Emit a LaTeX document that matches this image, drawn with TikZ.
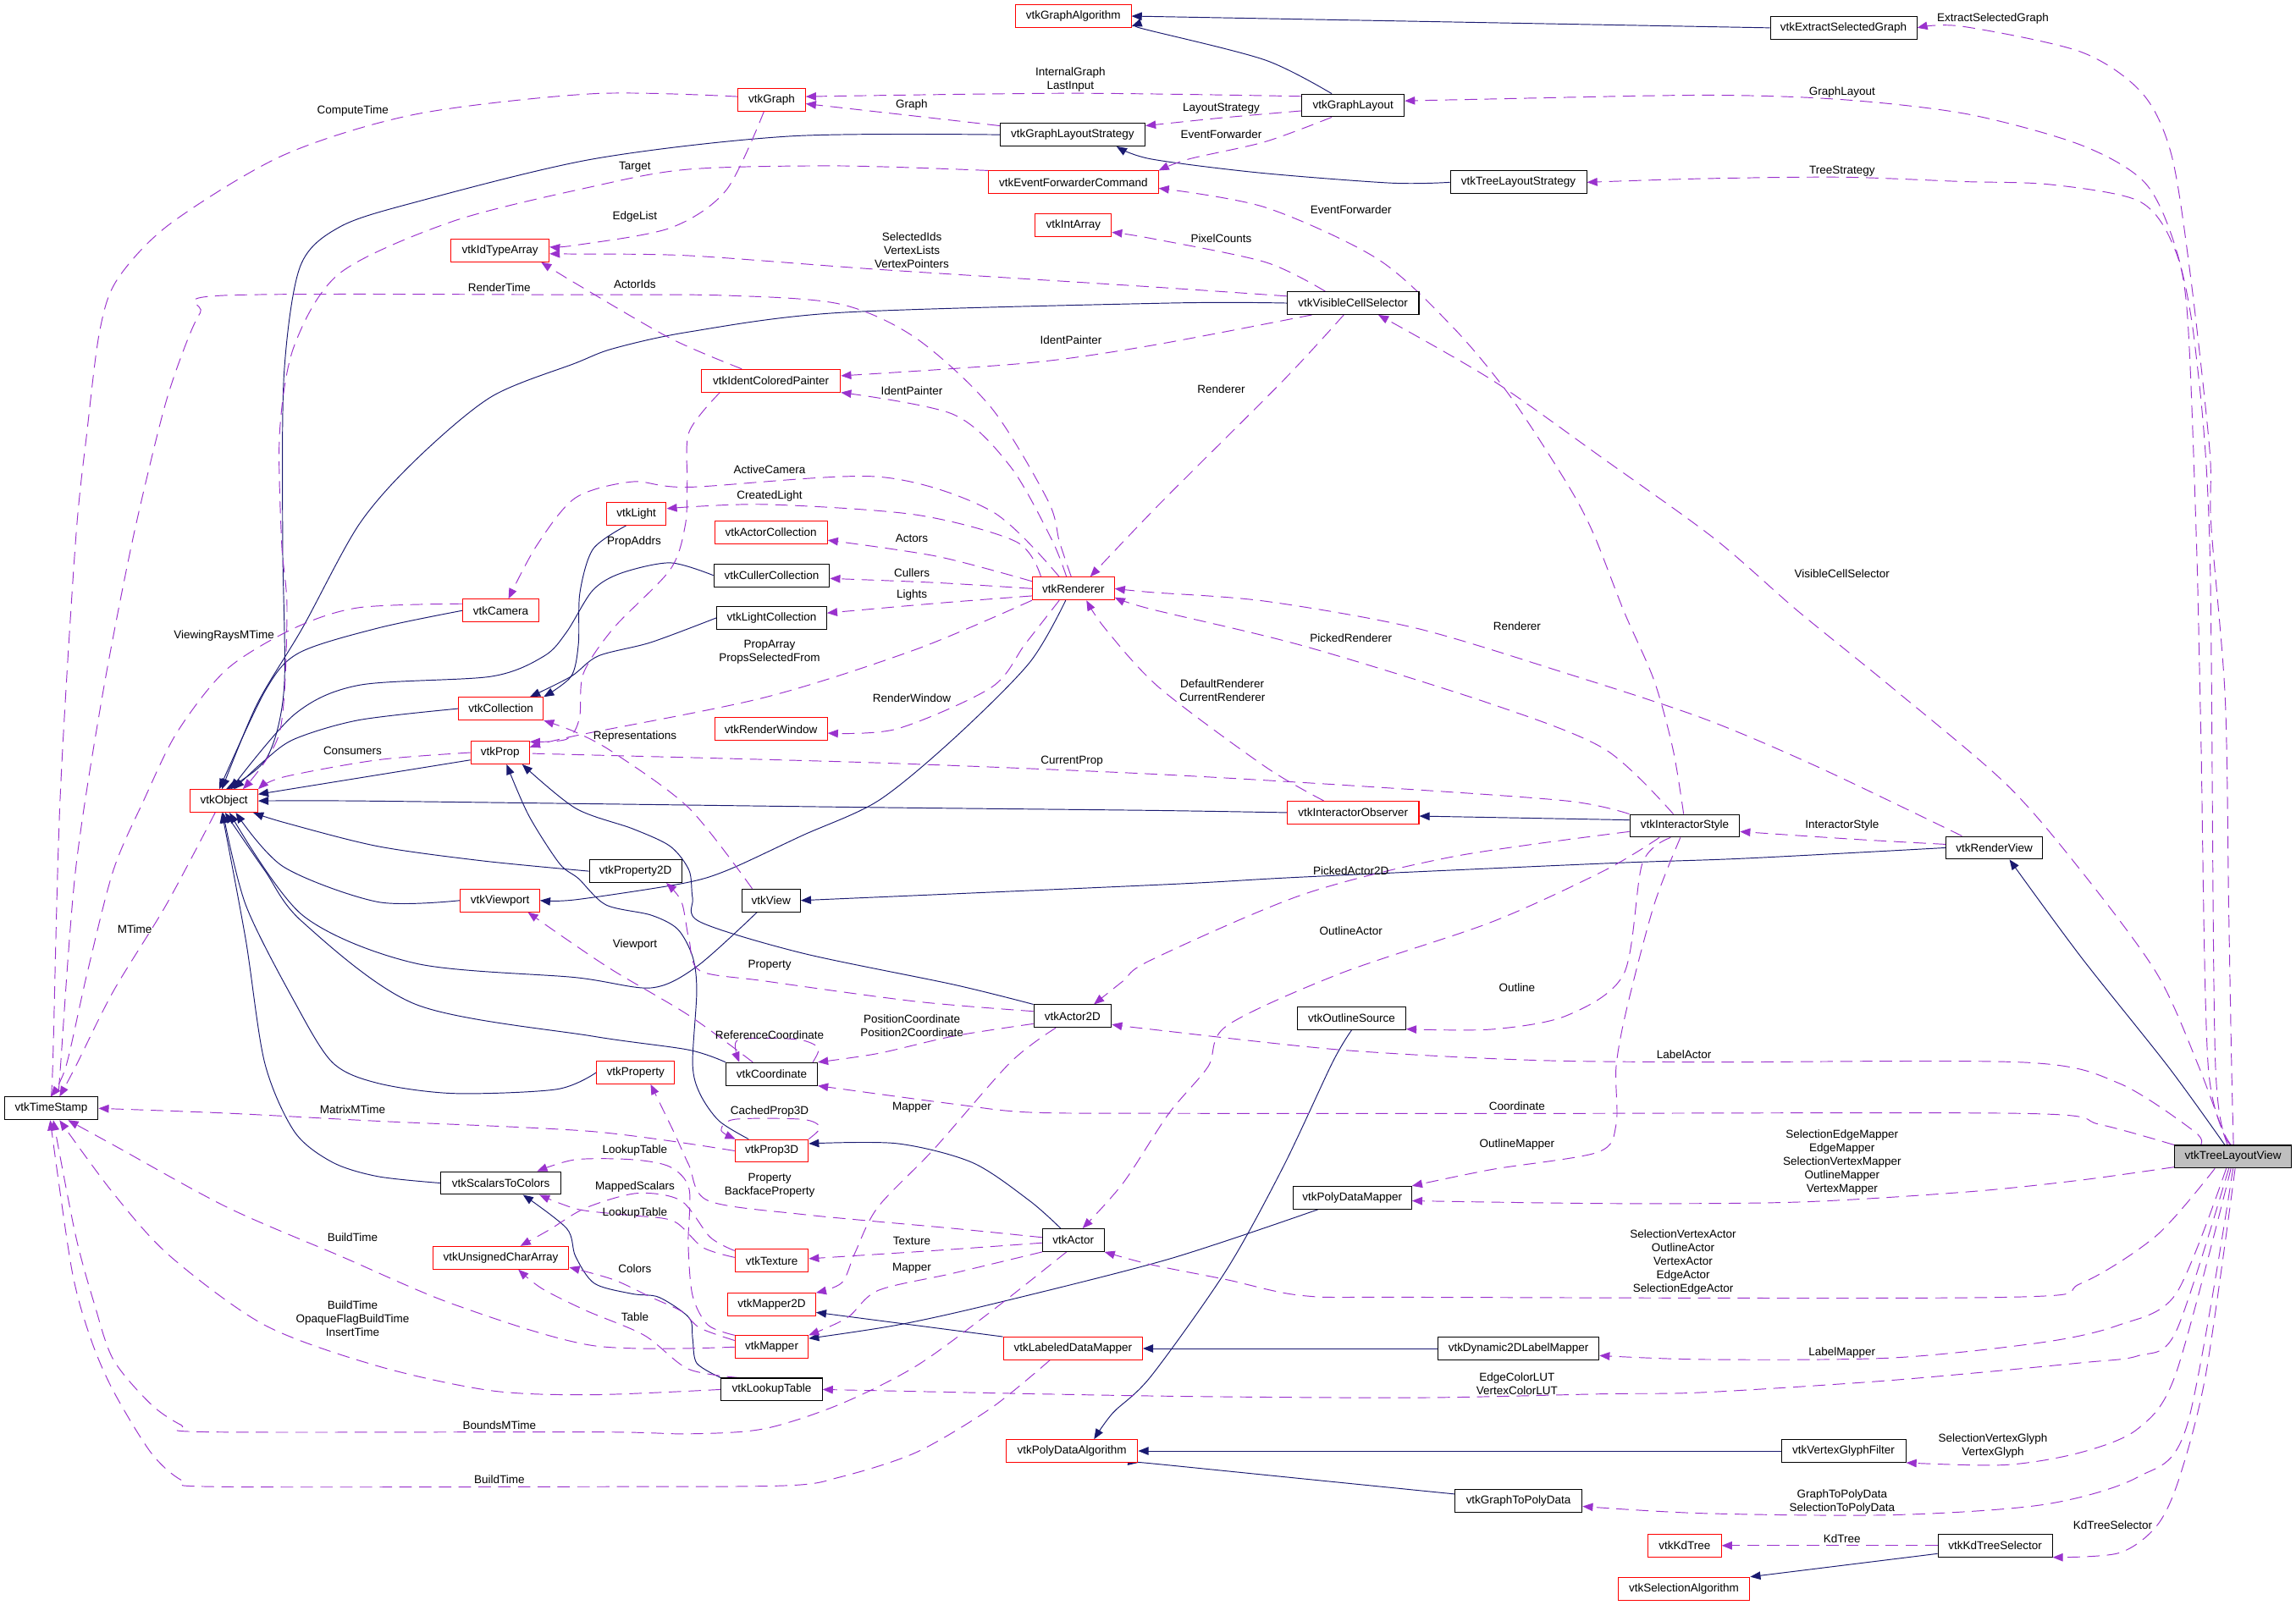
\documentclass[tikz,border=0pt]{standalone}
\usepackage{fontspec}
\setmainfont{Liberation Sans}
\usetikzlibrary{arrows.meta}
\pgfdeclarelayer{bg}
\pgfdeclarelayer{edges}
\pgfsetlayers{bg,edges,main}
\definecolor{navyc}{HTML}{191970}
\definecolor{orch}{HTML}{9A32CD}
\definecolor{curfill}{HTML}{BFBFBF}
\begin{document}
\begin{tikzpicture}[x=1pt,y=-1pt,
  every node/.style={font=\fontsize{7.8}{9.25}\selectfont},
  cls/.style={draw, fill=white, line width=0.6pt, minimum height=15.5pt, inner sep=0pt},
  redc/.style={cls, draw=red},
  blkc/.style={cls, draw=black},
  curc/.style={cls, draw=black, fill=curfill},
  lbl/.style={align=center, inner sep=0pt},
  inh/.style={navyc, line width=0.55pt, -{Triangle[length=7pt,width=5.5pt]}},
  dep/.style={orch, line width=0.55pt, dash pattern=on 8.5pt off 5pt, -{Triangle[length=7pt,width=5.5pt]}}]
\useasboundingbox (0,0) rectangle (1568,1096);
\begin{pgfonlayer}{bg}
\fill[white] (0,0) rectangle (1568,1096);
\end{pgfonlayer}
% ---------------- nodes
\node[redc, minimum width=79pt] (ga) at (733,11) {vtkGraphAlgorithm};
\node[blkc, minimum width=100pt] (esg) at (1259,19) {vtkExtractSelectedGraph};
\node[redc, minimum width=46pt] (graph) at (527,68) {vtkGraph};
\node[blkc, minimum width=70pt] (gl) at (924,72) {vtkGraphLayout};
\node[blkc, minimum width=99pt] (gls) at (732.5,92) {vtkGraphLayoutStrategy};
\node[redc, minimum width=116pt] (efc) at (733,124.5) {vtkEventForwarderCommand};
\node[blkc, minimum width=93pt] (tls) at (1037,124.5) {vtkTreeLayoutStrategy};
\node[redc, minimum width=67pt] (ita) at (341.5,171) {vtkIdTypeArray};
\node[redc, minimum width=52pt] (ia) at (733,154) {vtkIntArray};
\node[blkc, minimum width=90pt] (vcs) at (924,207) {vtkVisibleCellSelector};
\node[redc, minimum width=95pt] (icp) at (526.5,260) {vtkIdentColoredPainter};
\node[redc, minimum width=41pt] (light) at (434.5,351) {vtkLight};
\node[redc, minimum width=77pt] (ac) at (526.5,363.5) {vtkActorCollection};
\node[blkc, minimum width=79pt] (cc) at (527,393) {vtkCullerCollection};
\node[blkc, minimum width=75pt] (lc) at (527,422) {vtkLightCollection};
\node[redc, minimum width=56pt] (ren) at (733,402) {vtkRenderer};
\node[redc, minimum width=52pt] (cam) at (342,417) {vtkCamera};
\node[redc, minimum width=58pt] (coll) at (342,484) {vtkCollection};
\node[redc, minimum width=77pt] (rw) at (526.5,498) {vtkRenderWindow};
\node[redc, minimum width=40pt] (prop) at (341.5,514) {vtkProp};
\node[redc, minimum width=46pt] (obj) at (153,547) {vtkObject};
\node[redc, minimum width=90pt] (io) at (924,555) {vtkInteractorObserver};
\node[blkc, minimum width=75pt] (is) at (1150.5,564) {vtkInteractorStyle};
\node[blkc, minimum width=66pt] (rv) at (1362,579) {vtkRenderView};
\node[blkc, minimum width=63pt] (p2d) at (434,595) {vtkProperty2D};
\node[redc, minimum width=54pt] (vp) at (341.5,615) {vtkViewport};
\node[blkc, minimum width=40pt] (view) at (526.6,615) {vtkView};
\node[blkc, minimum width=53pt] (a2d) at (732.5,694) {vtkActor2D};
\node[blkc, minimum width=74pt] (os) at (923,695.6) {vtkOutlineSource};
\node[blkc, minimum width=62.5pt] (coord) at (527,733.5) {vtkCoordinate};
\node[redc, minimum width=53pt] (prty) at (434,732.5) {vtkProperty};
\node[blkc, minimum width=64pt] (ts) at (35,757) {vtkTimeStamp};
\node[redc, minimum width=50pt] (p3d) at (527,786) {vtkProp3D};
\node[curc, minimum width=80pt] (tlv) at (1525,790) {vtkTreeLayoutView};
\node[blkc, minimum width=82pt] (s2c) at (342,808) {vtkScalarsToColors};
\node[blkc, minimum width=81pt] (pdm) at (923.5,818) {vtkPolyDataMapper};
\node[blkc, minimum width=42pt] (actor) at (733,847) {vtkActor};
\node[redc, minimum width=93pt] (uca) at (342,859) {vtkUnsignedCharArray};
\node[redc, minimum width=50pt] (tex) at (527,861) {vtkTexture};
\node[redc, minimum width=60pt] (m2d) at (527,891) {vtkMapper2D};
\node[redc, minimum width=50pt] (mapper) at (527,920) {vtkMapper};
\node[redc, minimum width=95pt] (ldm) at (732.7,921) {vtkLabeledDataMapper};
\node[blkc, minimum width=110pt] (d2d) at (1037,921) {vtkDynamic2DLabelMapper};
\node[blkc, minimum width=69pt] (lut) at (527,949) {vtkLookupTable};
\node[redc, minimum width=90pt] (pda) at (732,991) {vtkPolyDataAlgorithm};
\node[blkc, minimum width=85pt] (vgf) at (1259,991) {vtkVertexGlyphFilter};
\node[blkc, minimum width=87pt] (g2p) at (1037,1025) {vtkGraphToPolyData};
\node[redc, minimum width=50pt] (kd) at (1150.5,1055.6) {vtkKdTree};
\node[blkc, minimum width=78pt] (kds) at (1362.5,1055.6) {vtkKdTreeSelector};
\node[redc, minimum width=90pt] (sa) at (1150,1085) {vtkSelectionAlgorithm};
\begin{pgfonlayer}{edges}
% ---------------- inheritance
\draw[inh] (esg.west) -- (ga.east);
\draw[inh] plot[smooth] coordinates {(gl.151) (864,41) (786,21) (ga.-10)};
\draw[inh] plot[smooth] coordinates {(tls.west) (950,125) (860,118) (786,108.6) (gls.-15)};
\draw[inh] plot[smooth] coordinates {(gls.west) (540,93) (405,108.6) (284,138) (232,155) (205,182) (194,255) (193,368) (194,470) (182,518) (obj.80)};
\draw[inh] plot[smooth] coordinates {(vcs.west) (798,207) (574,213.5) (471,226.6) (419,238) (393,248) (335.5,271) (284,314) (245,358.5) (206.5,429) (175.5,481) (obj.100)};
\draw[inh] plot[smooth] coordinates {(cam.west) (258,429) (204,446) (181,472) (obj.112)};
\draw[inh] plot[smooth] coordinates {(light.-131) (405,375) (396,405) (395,440) (390,462) (coll.north east)};
\draw[inh] plot[smooth] coordinates {(cc.west) (457.7,384.4) (424,391.5) (404.7,403.3) (387,431.6) (371.7,448) (335.5,462) (245,468) (201,488) (obj.60)};
\draw[inh] plot[smooth] coordinates {(lc.west) (444.6,438.7) (408.6,448) (390,462) (coll.22)};
\draw[inh] plot[smooth] coordinates {(coll.west) (245,491.8) (201,504.8) (180,520) (obj.50)};
\draw[inh] (prop.-166) -- (obj.11);
\draw[inh] plot[smooth] coordinates {(io.west) (786,553.5) (600,551.5) (404.7,549) (242.6,547) (obj.east)};
\draw[inh] plot[smooth] coordinates {(p2d.west) (330,588) (258,578) (195,562) (obj.-22)};
\draw[inh] plot[smooth] coordinates {(vp.west) (258,616) (193.6,592) (obj.-45)};
\draw[inh] plot[smooth] coordinates {(view.-140) (476,660) (444.6,674.7) (393,667.6) (284,658) (206.5,625) (obj.-65)};
\draw[inh] plot[smooth] coordinates {(coord.north west) (470,717) (404.7,707.7) (284,686) (206.5,629.6) (180.7,594.4) (obj.-85)};
\draw[inh] plot[smooth] coordinates {(prty.west) (380,744) (309.7,746.8) (258,739.8) (227,725.6) (201,684) (167.8,618) (obj.-95)};
\draw[inh] plot[smooth] coordinates {(s2c.west) (258,803.5) (227,793.8) (201,772.8) (180.7,725.6) (167.8,641.7) (obj.-100)};
\draw[inh] plot[smooth] coordinates {(ren.-123) (703,452.7) (651,504.8) (599.6,547) (548,570.6) (496.4,594.5) (465.4,603.5) (393,614.5) (vp.east)};
\draw[inh] plot[smooth] coordinates {(rv.west) (1191,586.3) (1096,589.7) (889.6,599) (798,604) (view.east)};
\draw[inh] plot[smooth] coordinates {(tlv.125) (1480.7,728.5) (1421,653.4) (rv.-38)};
\draw[inh] (is.174) -- (io.-3);
\draw[inh] plot[smooth] coordinates {(a2d.north west) (651,672.4) (548,651) (478,629.6) (473,613.4) (470.6,594.5) (457.7,578) (432,566) (393,552) (prop.-28)};
\draw[inh] plot[smooth] coordinates {(p3d.153) (491,765.5) (478,747) (473,726.6) (475.8,677) (473,653.4) (462.8,634.6) (444.6,625) (413.8,618) (395,600) (382,589.7) (361,556.8) (prop.-61)};
\draw[inh] plot[smooth] coordinates {(actor.137) (703,820) (664,794) (612.6,781) (p3d.11)};
\draw[inh] plot[smooth] coordinates {(pdm.-161) (798,860) (677,890.8) (612.6,905) (mapper.13)};
\draw[inh] (ldm.north west) -- (m2d.-10);
\draw[inh] (d2d.west) -- (ldm.east);
\draw[inh] plot[smooth] coordinates {(os.south) (910,725.6) (876.6,796.4) (837.8,867) (786,940) (760,965) (pda.28)};
\draw[inh] (vgf.west) -- (pda.east);
\draw[inh] plot[smooth] coordinates {(g2p.174) (890,1010) (786,999.5) (pda.south east)};
\draw[inh] (kds.-172) -- (sa.north east);
\draw[inh] plot[smooth] coordinates {(lut.north west) (475.8,931) (473,914) (470.6,900) (450,886) (432,883.7) (406,876.6) (393,858) (387,839) (s2c.-28)};
% ---------------- usage
\draw[dep] plot[smooth] coordinates {(tlv.88) (1524,728.5) (1522,618) (1519.6,476.5) (1510,358.5) (1509,307) (1496,189) (1483,106) (1463,63.7) (1421,35.4) (1340,18) (esg.east)};
\draw[dep] plot[smooth] coordinates {(tlv.93) (1513,728) (1509,370) (1499,236) (1486,170) (1465,125) (1421,99) (1344,78) (1258,68) (1163,65) (1000,68) (gl.5)};
\draw[dep] plot[smooth] coordinates {(tlv.100) (1508,728) (1503,500) (1500,370) (1493.6,212.5) (1483,165) (1460,137) (1400,126) (1340,124) (1258,121) (1163,122) (tls.east)};
\draw[dep] plot[smooth] coordinates {(tlv.115) (1501.6,728.5) (1473,665) (1421,594.5) (1370,535.5) (1292,469.5) (1228,417.5) (1171,368) (1096,314) (1019,259.6) (vcs.-25)};
\draw[dep] plot[smooth] coordinates {(rv.160) (1241,523.6) (1163,490.6) (1070,460) (967,429) (864,410.6) (786,404.5) (ren.east)};
\draw[dep] plot[smooth] coordinates {(is.134) (1096,511.7) (1019,481) (889.6,441) (786,416) (ren.-12)};
\draw[dep] plot[smooth] coordinates {(io.158) (864,523.6) (791.5,469.5) (754.5,429) (ren.-42)};
\draw[dep] plot[smooth] coordinates {(vcs.-128) (876.6,259.6) (791.5,344.6) (ren.35)};
\draw[dep] plot[smooth] coordinates {(vcs.-164) (786,236) (703,247.8) (icp.4)};
\draw[dep] plot[smooth] coordinates {(ren.120) (718,368) (690,318.6) (651,283) (icp.south east)};
\draw[dep] plot[smooth] coordinates {(ren.140) (677,349) (599.5,325.6) (470.6,332.7) (432,329) (393,340) (366.5,372.6) (cam.57)};
\draw[dep] plot[smooth] coordinates {(ren.160) (694,370) (625.6,351.6) (522,344.5) (light.10)};
\draw[dep] plot[smooth] coordinates {(ren.170) (640,380) (ac.-8)};
\draw[dep] plot[smooth] coordinates {(ren.180) (640,398) (cc.-3)};
\draw[dep] plot[smooth] coordinates {(ren.-170) (640,412) (lc.5)};
\draw[dep] plot[smooth] coordinates {(ren.south west) (625.6,443.5) (522,476.4) (393,502.5) (prop.10)};
\draw[dep] plot[smooth] coordinates {(ren.-140) (700,440) (677,469.5) (612.6,497.8) (rw.-4)};
\draw[dep] plot[smooth] coordinates {(view.148) (470.6,552) (419,514) (393,500) (coll.south east)};
\draw[dep] plot[smooth] coordinates {(is.north west) (1070,547) (941,537.7) (786,528.6) (599.6,521) (393,515.4) (prop.-2)};
\draw[dep] plot[smooth] coordinates {(prop.west) (258,519) (193.6,530.7) (obj.north east)};
\draw[dep] plot[smooth] coordinates {(cam.170) (245,415) (201,429) (155,457) (121,500) (98,547) (77.4,594.4) (59.4,665.2) (45,728.5) (ts.92)};
\draw[dep] plot[smooth] coordinates {(obj.-127) (113.5,618) (77.4,677) (51.6,728.5) (ts.55)};
\draw[dep] plot[smooth] coordinates {(graph.175) (405,64) (284,78) (193.5,106) (116,153) (80,191) (68,226.5) (59.4,295) (51.6,370) (41,547) (36,728.5) (ts.95)};
\draw[dep] plot[smooth] coordinates {(ren.100) (723.5,370) (715.7,342) (677,278.5) (625.6,231) (573.8,207.7) (496,201.8) (393,201.3) (152.3,201.8) (136.8,213.6) (123.9,243) (111,283) (90.3,370) (69.7,476.4) (51.6,594.5) (41.3,728.5) (ts.58)};
\draw[dep] plot[smooth] coordinates {(icp.158) (457.7,231) (393,193.5) (ita.-16)};
\draw[dep] plot[smooth] coordinates {(graph.-123) (496,129.8) (457.7,155.7) (393,167.5) (ita.4)};
\draw[dep] plot[smooth] coordinates {(vcs.174) (786,195.9) (599.6,184) (470.6,174.6) (393,173.5) (ita.-4)};
\draw[dep] plot[smooth] coordinates {(efc.north west) (573.8,113.3) (470.6,115.6) (404.7,127.4) (309.7,151) (232.3,186.4) (201,236) (191,295) (192.3,370) (196,417.5) (191,500) (obj.32)};
\draw[dep] plot[smooth] coordinates {(gls.173) (622.6,79) (graph.-7)};
\draw[dep] plot[smooth] coordinates {(gl.170) (731,63.7) (graph.5)};
\draw[dep] plot[smooth] coordinates {(gl.-174) (834,80.5) (gls.7)};
\draw[dep] plot[smooth] coordinates {(gl.-151) (864,96.8) (812,108.6) (efc.north east)};
\draw[dep] plot[smooth] coordinates {(is.95) (1142.5,511.7) (1129.6,464.7) (1109,417.5) (1088,364) (1070,330) (1031.6,271) (992.7,224) (941,177) (864,141.6) (efc.-4)};
\draw[dep] plot[smooth] coordinates {(vcs.157) (864,179) (786,162.8) (ia.-10)};
\draw[dep] plot[smooth] coordinates {(icp.-167) (470.6,295) (469.3,330) (468,358.5) (457.7,389) (419,429) (398.4,460) (395.7,490.6) (387,504.8) (prop.20)};
\draw[dep] plot[smooth] coordinates {(coord.148) (470.6,693.6) (419,663) (387,641.6) (vp.-23)};
\draw[dep] plot[smooth] coordinates {(a2d.173) (625.6,684) (522,670) (478,663) (470.6,642) (465.4,615.8) (p2d.-21)};
\draw[dep] plot[smooth] coordinates {(a2d.-169) (651,707.7) (599.6,719.5) (coord.north east)};
\draw[dep] plot[smooth] coordinates {(coord.16) (559,716) (548,710.5) (525,709) (503,711) (coord.160)};
\draw[dep] plot[smooth] coordinates {(tlv.160) (1498.6,772.8) (1447,739.8) (1382.5,725.6) (1163,725.4) (1044,724) (915,717) (786,703) (a2d.-12)};
\draw[dep] plot[smooth] coordinates {(tlv.north west) (1434,768) (1382.5,760.5) (1036,760.5) (798,760.4) (703,759.7) (651,754) (coord.south east)};
\draw[dep] plot[smooth] coordinates {(a2d.-145) (690,725.6) (638,784.6) (599.5,824.5) (584,855.4) (575,876) (m2d.north east)};
\draw[dep] plot[smooth] coordinates {(p3d.north east) (560,770) (548,764.5) (501.6,764.5) (492.5,772) (p3d.162)};
\draw[dep] plot[smooth] coordinates {(actor.175) (651,839) (548,829.4) (483.5,820) (470.6,796) (460,772.8) (prty.-38)};
\draw[dep] plot[smooth] coordinates {(actor.-175) (640,854) (tex.3)};
\draw[dep] plot[smooth] coordinates {(actor.south west) (651,869.6) (599.6,881.4) (578.6,900) (mapper.north east)};
\draw[dep] plot[smooth] coordinates {(tlv.-147) (1473,843.6) (1421,876.6) (1369.7,886) (967,886) (889.6,884.9) (837.8,874) (786,863.7) (actor.south east)};
\draw[dep] plot[smooth] coordinates {(is.-155) (1096,594.4) (1019,629.6) (915,665) (837.8,700.6) (825,728.5) (798,760.8) (767,808) (actor.52)};
\draw[dep] plot[smooth] coordinates {(is.-174) (992.7,585) (889.6,611) (786,655.7) (767,670) (a2d.29)};
\draw[dep] plot[smooth] coordinates {(is.-140) (1121.6,589.7) (1109,665) (1070,693.6) (1019,703) (os.-11)};
\draw[dep] plot[smooth] coordinates {(is.-110) (1129.6,618) (1111,688.6) (1103.7,728.5) (1103.7,768) (1091,787) (1019,798.7) (pdm.north east)};
\draw[dep] plot[smooth] coordinates {(tlv.-170) (1421,806) (1344,814) (1228,821) (1100,822) (pdm.-3)};
\draw[dep] plot[smooth] coordinates {(rv.176) (1266.5,573.2) (is.-6)};
\draw[dep] plot[smooth] coordinates {(tlv.-120) (1486,883.7) (1447,905) (1395.7,916.7) (1292,927.4) (1163,928.5) (d2d.-5)};
\draw[dep] plot[smooth] coordinates {(tlv.-110) (1486,909.5) (1460,926) (1421,930.8) (1292,942.7) (1163,951) (1096,952) (967,954.6) (786,953.4) (lut.east)};
\draw[dep] plot[smooth] coordinates {(tlv.-100) (1486,938) (1460,975.8) (1421,992) (1369.7,1000.5) (vgf.south east)};
\draw[dep] plot[smooth] coordinates {(tlv.-90) (1493.6,973.4) (1460,1008.8) (1395.7,1027.6) (1292,1034.7) (1163,1033.6) (g2p.-5)};
\draw[dep] plot[smooth] coordinates {(tlv.-80) (1506.5,938) (1488.5,1008.8) (1473,1042) (1447,1060.7) (kds.south east)};
\draw[dep] (kds.west) -- (kd.east);
\draw[dep] plot[smooth] coordinates {(p3d.west) (404.7,772.8) (258,765.7) (155,760.3) (ts.east)};
\draw[dep] plot[smooth] coordinates {(mapper.west) (404.7,919) (309.7,890.8) (232.3,857.8) (155,824.5) (77.4,782) (ts.-35)};
\draw[dep] plot[smooth] coordinates {(lut.west) (404.7,952.6) (335.5,949.8) (258,933) (180.7,905) (116,857.8) (77.4,815) (ts.-55)};
\draw[dep] plot[smooth] coordinates {(actor.-120) (677,895.6) (625.6,933) (573.8,959) (522,975.8) (470.6,979.3) (404.7,978) (142,978) (124,973.4) (103,959) (77.4,928.6) (64.5,890.8) (51.6,843.6) (ts.-80)};
\draw[dep] plot[smooth] coordinates {(ldm.-153) (677,961.6) (625.6,992) (573.8,1008.8) (535,1014.7) (393,1015.4) (147,1015.4) (124,1011) (103,992) (77.4,950) (62,914.4) (49,867) (ts.-95)};
\draw[dep] plot[smooth] coordinates {(mapper.north west) (483.5,905) (473,885) (470,850) (470.6,812) (457.7,797) (432,792) (393,792) (s2c.18)};
\draw[dep] plot[smooth] coordinates {(tex.175) (480,852) (460,834) (430,830) (395,826) (s2c.-17)};
\draw[dep] plot[smooth] coordinates {(tex.165) (485,845) (465,820) (435,815) (400,825) (375,840) (uca.31)};
\draw[dep] plot[smooth] coordinates {(mapper.170) (478,907) (465.4,895.6) (444.6,886) (419,874) (uca.-8)};
\draw[dep] plot[smooth] coordinates {(lut.160) (470,935) (440,912) (400,895) (370,880) (uca.-34)};
\end{pgfonlayer}
% ---------------- labels
\node[lbl] (l1) at (1361,13) {ExtractSelectedGraph};
\node[lbl] (l2) at (1258,63) {GraphLayout};
\node[lbl] (l3) at (1258,117) {TreeStrategy};
\node[lbl] (l4) at (731,54.6) {InternalGraph\\LastInput};
\node[lbl] (l5) at (622.6,71.5) {Graph};
\node[lbl] (l6) at (834,74) {LayoutStrategy};
\node[lbl] (l7) at (834,92) {EventForwarder};
\node[lbl] (l8) at (922.6,143) {EventForwarder};
\node[lbl] (l9) at (241,76) {ComputeTime};
\node[lbl] (l10) at (433.6,114.2) {Target};
\node[lbl] (l11) at (433.6,148) {EdgeList};
\node[lbl] (l12) at (834,162.8) {PixelCounts};
\node[lbl] (l13) at (622.7,171) {SelectedIds\\VertexLists\\VertexPointers};
\node[lbl] (l14) at (433.6,194.2) {ActorIds};
\node[lbl] (l15) at (341,196.3) {RenderTime};
\node[lbl] (l16) at (731.4,232.5) {IdentPainter};
\node[lbl] (l17) at (622.7,267) {IdentPainter};
\node[lbl] (l18) at (834,266) {Renderer};
\node[lbl] (l19) at (525.6,320.4) {ActiveCamera};
\node[lbl] (l20) at (525.6,339) {CreatedLight};
\node[lbl] (l21) at (622.7,367.4) {Actors};
\node[lbl] (l22) at (433,369.8) {PropAddrs};
\node[lbl] (l23) at (622.7,391.5) {Cullers};
\node[lbl] (l24) at (1258,392) {VisibleCellSelector};
\node[lbl] (l25) at (622.7,406.4) {Lights};
\node[lbl] (l26) at (153,434.4) {ViewingRaysMTime};
\node[lbl] (l27) at (1036,427.6) {Renderer};
\node[lbl] (l28) at (922.6,435.6) {PickedRenderer};
\node[lbl] (l29) at (525.6,445.5) {PropArray\\PropsSelectedFrom};
\node[lbl] (l30) at (834.7,471.5) {DefaultRenderer\\CurrentRenderer};
\node[lbl] (l31) at (622.7,477) {RenderWindow};
\node[lbl] (l32) at (433.6,503) {Representations};
\node[lbl] (l33) at (240.8,512.8) {Consumers};
\node[lbl] (l34) at (732,519.6) {CurrentProp};
\node[lbl] (l35) at (1258,564) {InteractorStyle};
\node[lbl] (l36) at (922.6,595) {PickedActor2D};
\node[lbl] (l37) at (92,634.8) {MTime};
\node[lbl] (l38) at (922.6,635.8) {OutlineActor};
\node[lbl] (l39) at (433.6,645) {Viewport};
\node[lbl] (l40) at (525.6,659) {Property};
\node[lbl] (l41) at (1036,674.7) {Outline};
\node[lbl] (l42) at (622.7,700.7) {PositionCoordinate\\Position2Coordinate};
\node[lbl] (l43) at (525.6,707) {ReferenceCoordinate};
\node[lbl] (l44) at (1150,720) {LabelActor};
\node[lbl] (l45) at (1036,755.3) {Coordinate};
\node[lbl] (l46) at (622.7,756.3) {Mapper};
\node[lbl] (l47) at (240.8,758) {MatrixMTime};
\node[lbl] (l48) at (525.6,759.2) {CachedProp3D};
\node[lbl] (l49) at (433.6,785.5) {LookupTable};
\node[lbl] (l50) at (1036,781.5) {OutlineMapper};
\node[lbl] (l51) at (1258,794) {SelectionEdgeMapper\\EdgeMapper\\SelectionVertexMapper\\OutlineMapper\\VertexMapper};
\node[lbl] (l52) at (525.6,809.3) {Property\\BackfaceProperty};
\node[lbl] (l53) at (433.6,810.6) {MappedScalars};
\node[lbl] (l54) at (433.6,828.5) {LookupTable};
\node[lbl] (l55) at (240.8,845) {BuildTime};
\node[lbl] (l56) at (622.7,847.8) {Texture};
\node[lbl] (l57) at (1149.4,862.2) {SelectionVertexActor\\OutlineActor\\VertexActor\\EdgeActor\\SelectionEdgeActor};
\node[lbl] (l58) at (622.7,866) {Mapper};
\node[lbl] (l59) at (433.6,866.5) {Colors};
\node[lbl] (l60) at (240.8,900.3) {BuildTime\\OpaqueFlagBuildTime\\InsertTime};
\node[lbl] (l61) at (433.6,899.5) {Table};
\node[lbl] (l62) at (1258,923.8) {LabelMapper};
\node[lbl] (l63) at (1036,944.9) {EdgeColorLUT\\VertexColorLUT};
\node[lbl] (l64) at (341,973.4) {BoundsMTime};
\node[lbl] (l65) at (1361,987.3) {SelectionVertexGlyph\\VertexGlyph};
\node[lbl] (l66) at (341,1010.5) {BuildTime};
\node[lbl] (l67) at (1258,1025.4) {GraphToPolyData\\SelectionToPolyData};
\node[lbl] (l68) at (1442.8,1041.6) {KdTreeSelector};
\node[lbl] (l69) at (1258,1050.8) {KdTree};
\end{tikzpicture}
\end{document}
